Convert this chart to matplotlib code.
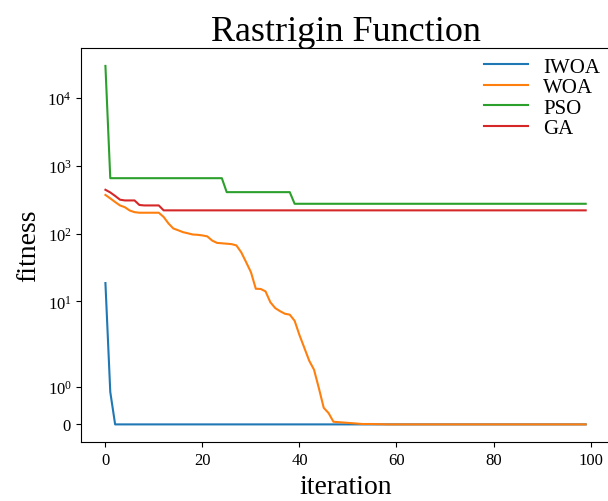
import matplotlib
matplotlib.use("Agg")
import matplotlib.pyplot as plt

plt.rcParams['font.family'] = ['Liberation Serif', 'DejaVu Serif']
plt.rcParams['mathtext.fontset'] = 'custom'
plt.rcParams['mathtext.rm'] = 'Liberation Serif'
plt.rcParams['mathtext.it'] = 'Liberation Serif:italic'
plt.rcParams['mathtext.default'] = 'regular'

iteration = list(range(100))

iwoa = [18.7, 0.86, 0, 0, 0, 0, 0, 0, 0, 0,
        0, 0, 0, 0, 0, 0, 0, 0, 0, 0,
        0, 0, 0, 0, 0, 0, 0, 0, 0, 0,
        0, 0, 0, 0, 0, 0, 0, 0, 0, 0,
        0, 0, 0, 0, 0, 0, 0, 0, 0, 0,
        0, 0, 0, 0, 0, 0, 0, 0, 0, 0,
        0, 0, 0, 0, 0, 0, 0, 0, 0, 0,
        0, 0, 0, 0, 0, 0, 0, 0, 0, 0,
        0, 0, 0, 0, 0, 0, 0, 0, 0, 0,
        0, 0, 0, 0, 0, 0, 0, 0, 0, 0]

woa = [371, 330, 292, 260, 245, 219, 207, 203, 203, 203,
       203, 203, 176, 141, 119, 112, 105, 101, 97, 96,
       94, 91, 79, 73, 72, 71, 70, 67, 53, 38,
       27, 15.4, 15.3, 14.1, 9.75, 8.0, 7.2, 6.6, 6.4, 5.2,
       3.2, 2.08, 1.69, 1.45, 0.96, 0.44, 0.30, 0.07, 0.06, 0.05,
       0.04, 0.03, 0.02, 0.01, 0.01, 0.01, 0.005, 0.005, 0, 0,
       0, 0, 0, 0, 0, 0, 0, 0, 0, 0,
       0, 0, 0, 0, 0, 0, 0, 0, 0, 0,
       0, 0, 0, 0, 0, 0, 0, 0, 0, 0,
       0, 0, 0, 0, 0, 0, 0, 0, 0, 0]

pso = [29500, 655, 655, 655, 655, 655, 655, 655, 655, 655,
       655, 655, 655, 655, 655, 655, 655, 655, 655, 655,
       655, 655, 655, 655, 655, 408, 408, 408, 408, 408,
       408, 408, 408, 408, 408, 408, 408, 408, 408, 275,
       275, 275, 275, 275, 275, 275, 275, 275, 275, 275,
       275, 275, 275, 275, 275, 275, 275, 275, 275, 275,
       275, 275, 275, 275, 275, 275, 275, 275, 275, 275,
       275, 275, 275, 275, 275, 275, 275, 275, 275, 275,
       275, 275, 275, 275, 275, 275, 275, 275, 275, 275,
       275, 275, 275, 275, 275, 275, 275, 275, 275, 275]

ga = [442, 404, 359, 316, 308, 308, 308, 264, 260, 260,
      260, 260, 220, 220, 220, 220, 220, 220, 220, 220,
      220, 220, 220, 220, 220, 220, 220, 220, 220, 220,
      220, 220, 220, 220, 220, 220, 220, 220, 220, 220,
      220, 220, 220, 220, 220, 220, 220, 220, 220, 220,
      220, 220, 220, 220, 220, 220, 220, 220, 220, 220,
      220, 220, 220, 220, 220, 220, 220, 220, 220, 220,
      220, 220, 220, 220, 220, 220, 220, 220, 220, 220,
      220, 220, 220, 220, 220, 220, 220, 220, 220, 220,
      220, 220, 220, 220, 220, 220, 220, 220, 220, 220]

series = [("IWOA", iwoa), ("WOA", woa), ("PSO", pso), ("GA", ga)]

fig = plt.figure(figsize=(6.08, 5.02), dpi=100)
ax = fig.add_axes([0.1339, 0.1169, 0.8689, 0.7855])

for name, vals in series:
    ax.plot(iteration, vals, label=name, linewidth=1.5)

ax.set_yscale('symlog', linthresh=2)
ax.set_title("Rastrigin Function", fontsize=26)
ax.set_xlabel("iteration", fontsize=20)
ax.set_ylabel("fitness", fontsize=20)
ax.tick_params(labelsize=12)
ax.set_xticks([0, 20, 40, 60, 80, 100])
ax.legend(loc='upper right', frameon=False, fontsize=15,
          bbox_to_anchor=(1.017, 1.0245), handlelength=2.1,
          labelspacing=0.04, handletextpad=0.72)

fig.savefig("out.png", dpi=100)
